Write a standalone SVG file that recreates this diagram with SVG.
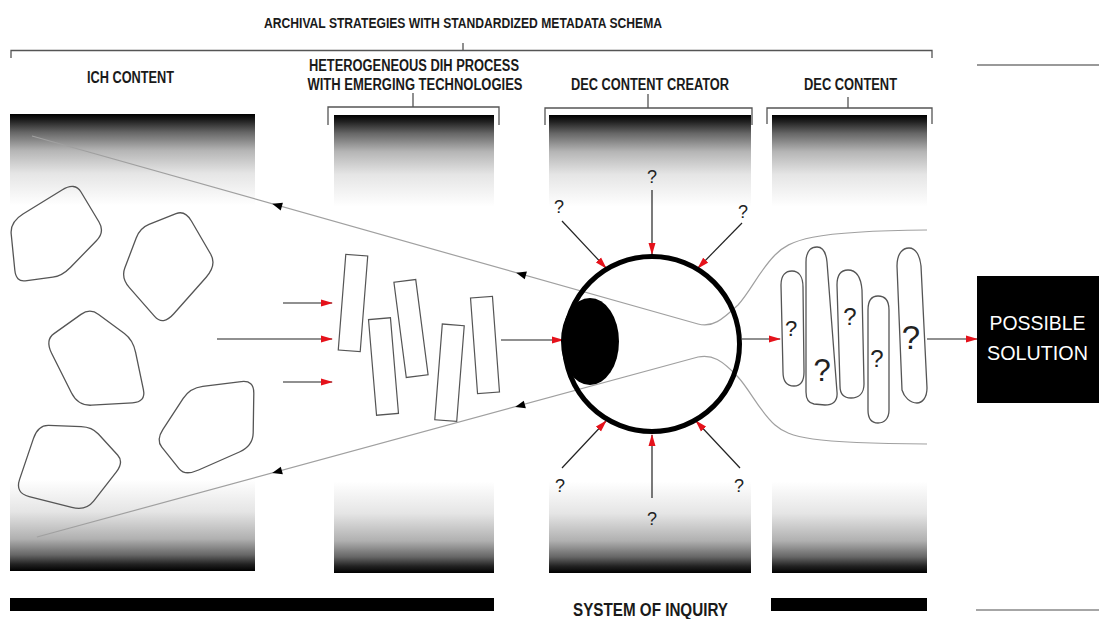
<svg xmlns="http://www.w3.org/2000/svg" width="1099" height="619" viewBox="0 0 1099 619">
<defs>
<linearGradient id="pg" x1="0" y1="0" x2="0" y2="1">
<stop offset="0" stop-color="#000"/>
<stop offset="0.015" stop-color="#222"/>
<stop offset="0.04" stop-color="#666"/>
<stop offset="0.08" stop-color="#b5b5b5"/>
<stop offset="0.13" stop-color="#e5e5e5"/>
<stop offset="0.2" stop-color="#fff"/>
<stop offset="0.8" stop-color="#fff"/>
<stop offset="0.87" stop-color="#e5e5e5"/>
<stop offset="0.93" stop-color="#b0b0b0"/>
<stop offset="0.965" stop-color="#666"/>
<stop offset="0.985" stop-color="#222"/>
<stop offset="1" stop-color="#000"/>
</linearGradient>
<marker id="ra" viewBox="0 0 12 8" refX="11" refY="4" markerWidth="12" markerHeight="8" markerUnits="userSpaceOnUse" orient="auto">
<path d="M0,0.5 L12,4 L0,7.5 Z" fill="#e5121b"/>
</marker>
<path id="tri" d="M5,0 L-5,-4 L-5,4 Z" fill="#000"/>
</defs>
<style>
.hd{font-family:"Liberation Sans",Arial,sans-serif;font-weight:bold;fill:#1a1a1a;text-anchor:middle}
.q{font-family:"Liberation Sans",Arial,sans-serif;fill:#222;text-anchor:middle}
.br{fill:none;stroke:#555;stroke-width:1.3}
.blob{fill:none;stroke:#555;stroke-width:1.3}
.rc{fill:#fff;stroke:#555;stroke-width:1.2}
.ar{stroke:#222;stroke-width:1.2;fill:none;marker-end:url(#ra)}
.cone{fill:none;stroke:#a0a0a0;stroke-width:1.2}
.panel{fill:url(#pg)}
</style>
<rect x="0" y="0" width="1099" height="619" fill="#fff"/>

<g id="title">
<text class="hd" x="463" y="27.5" font-size="14" textLength="398" lengthAdjust="spacingAndGlyphs">ARCHIVAL STRATEGIES WITH STANDARDIZED METADATA SCHEMA</text>
</g>
<g id="brackets">
<path class="br" d="M11,58 V50.5 H932 V58 M463,50.5 V43"/>
<path class="br" d="M328,125 V107 H499 V125 M413,107 V93"/>
<path class="br" d="M545,125 V108 H752 V125 M648,108 V94"/>
<path class="br" d="M767,124 V108 H932 V124 M848,108 V97"/>
<path d="M977,65 H1099" stroke="#777" stroke-width="1.5"/>
<path d="M976,610 H1099" stroke="#888" stroke-width="1.5"/>
</g>

<g id="ich-content">
<text class="hd" x="130.5" y="83" font-size="16" textLength="87" lengthAdjust="spacingAndGlyphs">ICH CONTENT</text>
<rect class="panel" x="10" y="114" width="245" height="457"/>
</g>
<g id="dih-process">
<text class="hd" x="414" y="71" font-size="16" textLength="210" lengthAdjust="spacingAndGlyphs">HETEROGENEOUS DIH PROCESS</text>
<text class="hd" x="415" y="90" font-size="16" textLength="215" lengthAdjust="spacingAndGlyphs">WITH EMERGING TECHNOLOGIES</text>
<rect class="panel" x="334" y="115" width="160" height="458"/>
</g>
<g id="dec-creator">
<text class="hd" x="650" y="90" font-size="16" textLength="158" lengthAdjust="spacingAndGlyphs">DEC CONTENT CREATOR</text>
<rect class="panel" x="549" y="115" width="202" height="458"/>
</g>
<g id="dec-content">
<text class="hd" x="850.5" y="90" font-size="16" textLength="93" lengthAdjust="spacingAndGlyphs">DEC CONTENT</text>
<rect class="panel" x="772" y="115" width="155" height="458"/>
</g>

<g id="connectors">
<path class="cone" d="M32,136 L698,324 C712,328 722,320 738,305 C750,292 760,270 775,255 C790,240 810,231 927,230"/>
<path class="cone" d="M37,537 L698,357 C712,354 722,360 738,377 C750,390 760,412 775,425 C790,438 810,443 927,444"/>
<use href="#tri" transform="translate(277,205.2) rotate(195.8)"/>
<use href="#tri" transform="translate(521,274.1) rotate(195.8)"/>
<use href="#tri" transform="translate(277,471.8) rotate(164.8)"/>
<use href="#tri" transform="translate(520,405.8) rotate(164.8)"/>
<path class="ar" d="M283,303 H332"/>
<path class="ar" d="M217,339 H332"/>
<path class="ar" d="M283,382 H332"/>
<path class="ar" d="M501,340 H563"/>
<path class="ar" d="M742,339 H780"/>
<path class="ar" d="M927,339 H977"/>
<path class="ar" d="M652,190 V254"/>
<path class="ar" d="M562,221 L606,268"/>
<path class="ar" d="M742,223 L698,268"/>
<path class="ar" d="M562,468 L606,421"/>
<path class="ar" d="M652,498 V435"/>
<path class="ar" d="M740,468 L696,421"/>
</g>

<g id="ich-shapes">
<path class="blob" d="M62,190 Q75,182 81,192 L99,222 Q105,232 96.4,240.8 L70.6,267.2 Q62,276 52.8,277.2 L25.2,280.8 Q16,282 14.8,270 L11.2,234 Q10,222 23,214 Z"/>
<path class="blob" d="M176,213.6 Q185,210 191.4,221 L210.6,254 Q217,265 206.2,277.2 L173.8,313.8 Q163,326 154.6,316.4 L129.4,287.6 Q121,278 124.8,268 L136.2,238 Q140,228 149,224.4 Z"/>
<path class="blob" d="M81,314.4 Q90,308 98.6,314.4 L124.4,333.6 Q133,340 135.6,352.4 L143.4,389.6 Q146,402 132.4,402.8 L91.6,405.2 Q78,406 71.4,392.8 L51.6,353.2 Q45,340 54,333.6 Z"/>
<path class="blob" d="M241.2,381.6 Q254,380 253.8,393.2 L253.2,432.8 Q253,446 239.4,452 L198.6,470 Q185,476 179.2,468.8 L161.8,447.2 Q156,440 162.8,429.6 L183.2,398.4 Q190,388 202.8,386.4 Z"/>
<path class="blob" d="M33.4,438.6 Q38,425 48.8,425.4 L81.2,426.6 Q92,427 98.4,434 L117.6,455 Q124,462 116.4,471.8 L93.6,501.2 Q86,511 71.8,507.4 L29.2,496.6 Q15,493 19.6,479.4 Z"/>
</g>

<g id="dih-shapes">
<rect class="rc" x="-11" y="-48" width="22" height="96" transform="translate(353,303) rotate(4.5)"/>
<rect class="rc" x="-11" y="-48" width="22" height="96" transform="translate(383.5,366.5) rotate(-4.8)"/>
<rect class="rc" x="-11" y="-48" width="22" height="96" transform="translate(411,328.5) rotate(-7.4)"/>
<rect class="rc" x="-11" y="-48" width="22" height="96" transform="translate(449.5,372.7) rotate(4.5)"/>
<rect class="rc" x="-11" y="-48" width="22" height="96" transform="translate(485,345) rotate(-4.2)"/>
</g>

<g id="eye">
<circle cx="652" cy="344" r="87.5" fill="none" stroke="#000" stroke-width="5"/>
<ellipse cx="590" cy="341.5" rx="29" ry="43.5" fill="#000"/>
<text class="q" x="652" y="183" font-size="18">?</text>
<text class="q" x="559" y="213" font-size="18">?</text>
<text class="q" x="743" y="218" font-size="18">?</text>
<text class="q" x="560" y="492" font-size="18">?</text>
<text class="q" x="652" y="525" font-size="18">?</text>
<text class="q" x="739" y="492" font-size="18">?</text>
</g>

<g id="dec-shapes">
<path class="blob" d="M781,285 C781,275 786,271 792,271 C799,271 803,277 803,287 L804,372 C804,382 800,386 794,386 C786,386 783,381 783,372 Z"/>
<path class="blob" d="M806,262 C806,250 812,247 817,247 C823,247 826,252 827,262 L837,392 C838,402 832,405 825,405 L814,404 C808,403 806,399 806,392 Z"/>
<path class="blob" d="M837,285 C837,274 842,270 848,270 C857,270 861,278 862,290 L864,384 C864,394 858,398 851,398 C844,398 840,394 840,386 Z"/>
<path class="blob" d="M868,310 C868,300 872,296 878,296 C885,296 889,300 889,310 L889,410 C889,419 884,423 878,423 C872,423 868,419 868,410 Z"/>
<path class="blob" d="M897,266 C897,253 903,248 909,248 C916,248 920,256 921,266 L927,388 C927,398 922,403 917,403 C910,403 904,397 902,390 Z"/>
<text class="q" x="791" y="336" font-size="22">?</text>
<text class="q" x="822" y="381" font-size="31">?</text>
<text class="q" x="850" y="325" font-size="24">?</text>
<text class="q" x="877" y="367" font-size="24">?</text>
<text class="q" x="911" y="349" font-size="33">?</text>
</g>

<g id="possible-solution">
<rect x="977" y="276" width="122" height="127" fill="#000"/>
<text x="1037.5" y="330" font-family="Liberation Sans, Arial, sans-serif" font-size="21" fill="#fff" text-anchor="middle" textLength="96" lengthAdjust="spacingAndGlyphs">POSSIBLE</text>
<text x="1037.5" y="360" font-family="Liberation Sans, Arial, sans-serif" font-size="21" fill="#fff" text-anchor="middle" textLength="101" lengthAdjust="spacingAndGlyphs">SOLUTION</text>
</g>

<g id="system-of-inquiry">
<rect x="10" y="598" width="484" height="13" fill="#000"/>
<rect x="771" y="598" width="156" height="13" fill="#000"/>
<text class="hd" x="650.5" y="615.5" font-size="18.5" textLength="155" lengthAdjust="spacingAndGlyphs">SYSTEM OF INQUIRY</text>
</g>
</svg>
